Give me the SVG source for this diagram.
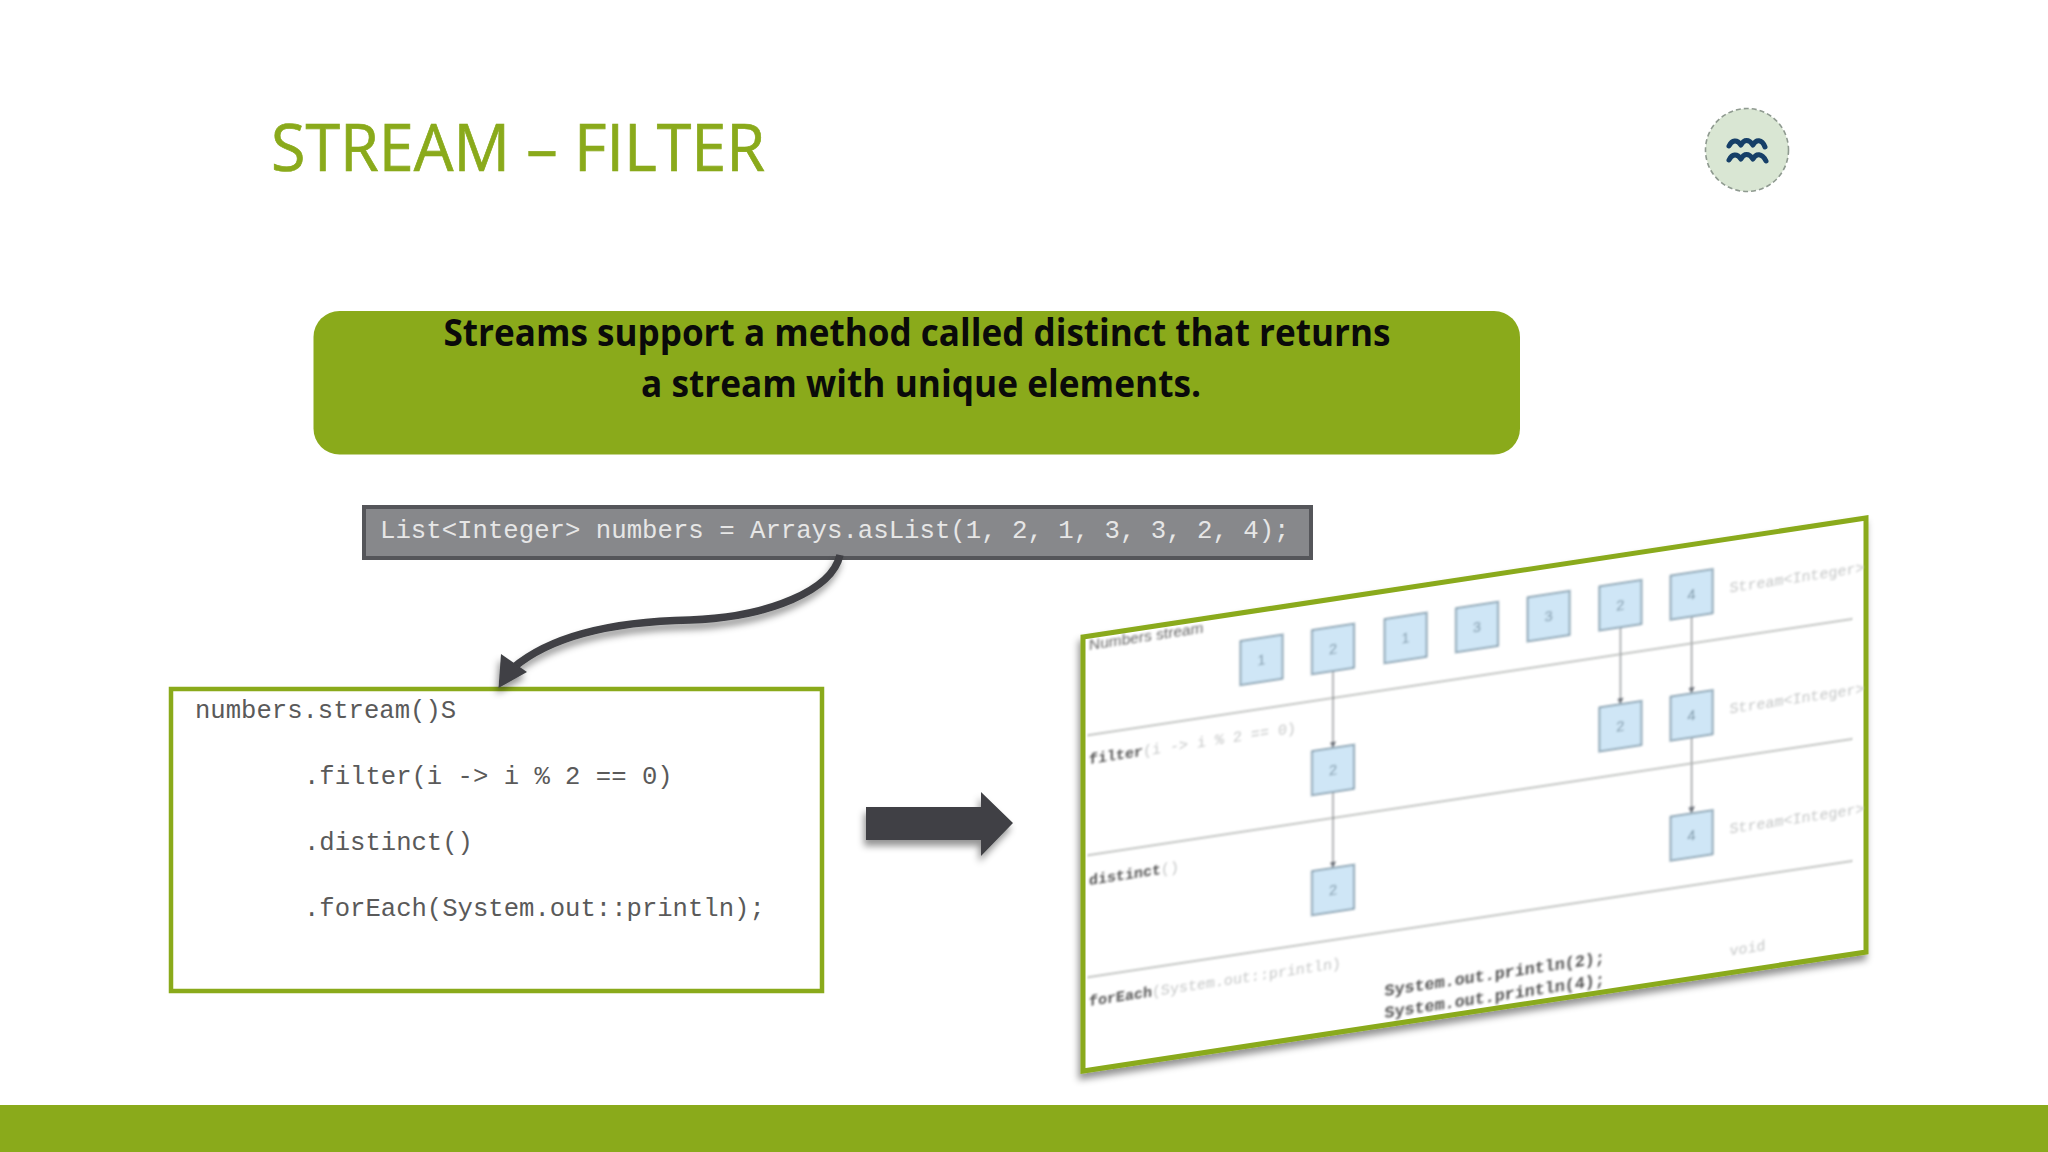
<svg xmlns="http://www.w3.org/2000/svg" width="2048" height="1152" viewBox="0 0 2048 1152">
<defs>
<filter id="soft" x="-5%" y="-5%" width="110%" height="110%"><feGaussianBlur stdDeviation="0.8"/></filter>
<filter id="shadow" x="-10%" y="-10%" width="120%" height="125%"><feDropShadow dx="-2" dy="6" stdDeviation="3.500" flood-color="#000" flood-opacity="0.42"/></filter>
<marker id="tip" markerWidth="6" markerHeight="6" refX="5" refY="3" orient="auto"><path d="M0 0.5L5 3L0 5.5Z" fill="#6a7078"/></marker>
</defs>
<style>
text{font-family:"Liberation Mono",monospace}
.green{fill:#8aaa1b}
.title{font-family:"Open Sans",sans-serif;font-size:66px;fill:#8aaa1b;stroke:#8aaa1b;stroke-width:0.700}
.banner{font-family:"Open Sans",sans-serif;font-size:37px;font-weight:700;fill:#0a0a0a;text-anchor:middle}
.code{font-size:25.6px;fill:#5a5a5a}
.box{fill:#cfe6f6;stroke:#8ea6b5;stroke-width:2}
.num{font-family:"Liberation Sans",sans-serif;font-size:15px;fill:#7d97a8;text-anchor:middle}
.div{stroke:#a4a8a4;stroke-width:1.800;stroke-dasharray:2 1;fill:none}
.flow{stroke:#8c8f92;stroke-width:1.300;fill:none;marker-end:url(#tip)}
.m{font-size:15px;font-weight:700;fill:#555}
.g{font-size:15px;fill:#c4c6c6}
.sys{font-size:16.700px;font-weight:700;fill:#555}
</style>
<rect width="2048" height="1152" fill="#fff"/>
<rect id="footer" x="0" y="1105" width="2048" height="47" class="green"/>
<text id="title" class="title" x="271" y="171" textLength="494" lengthAdjust="spacingAndGlyphs">STREAM – FILTER</text>
<g id="logo">
<circle cx="1747" cy="150" r="41.500" fill="#d9e6d3" stroke="#8f9a90" stroke-width="1.600" stroke-dasharray="5 3"/>
<g fill="none" stroke="#163f68" stroke-width="5" stroke-linecap="round" stroke-linejoin="round">
<path d="M1729 146C1732 140 1737 139 1741 145C1744 139 1749 139 1753 145C1756 139 1762 139 1765 147"/>
<path d="M1729 160C1732 154 1737 153 1741 159C1744 153 1749 153 1753 159C1756 153 1762 153 1766 161"/>
</g>
</g>
<g id="banner">
<rect x="313.500" y="311" width="1206.500" height="143.500" rx="26" class="green"/>
<text class="banner" x="917" y="346" textLength="947" lengthAdjust="spacingAndGlyphs">Streams support a method called distinct that returns</text>
<text class="banner" x="921" y="397" textLength="560" lengthAdjust="spacingAndGlyphs">a stream with unique elements.</text>
</g>
<g id="list-code">
<rect x="364" y="507" width="947" height="51" fill="#87888b" stroke="#55565a" stroke-width="4"/>
<text x="380" y="538" font-size="25.700" fill="#e6e6e6">List&lt;Integer&gt; numbers = Arrays.asList(1, 2, 1, 3, 3, 2, 4);</text>
</g>
<g id="pipeline-code">
<rect x="171" y="689" width="651" height="302" fill="#fff" stroke="#8aaa1b" stroke-width="4.500"/>
<text class="code" x="195" y="718">numbers.stream()S</text>
<text class="code" x="304" y="784">.filter(i -&gt; i % 2 == 0)</text>
<text class="code" x="304" y="850">.distinct()</text>
<text class="code" x="304" y="916">.forEach(System.out::println);</text>
</g>
<g id="connectors" filter="url(#shadow)">
<path d="M840 555C832 590 770 617 690 620C640 621 560 628 513 668" fill="none" stroke="#3f4044" stroke-width="7.500"/>
<path d="M501 654L527 672L498.500 688Z" fill="#3f4044"/>
<path d="M866 807H981V792L1013 823L981 856V840H866Z" fill="#3f4044"/>
</g>
<g id="stream-panel">
<path d="M1083 637L1866 518V952L1083 1071Z" fill="#fff" stroke="#8aaa1b" stroke-width="5" filter="url(#shadow)"/>
<g transform="translate(1083 637) skewY(-8.650)" filter="url(#soft)">
<path class="div" d="M5 99H770"/><path class="div" d="M5 219H770"/><path class="div" d="M5 341H770"/>
<g id="flows">
<path class="flow" d="M250 72V149"/><path class="flow" d="M250 193V269"/>
<path class="flow" d="M537.400 72V149"/><path class="flow" d="M608.600 72V149"/><path class="flow" d="M608.600 193V269"/>
</g>
<g id="row-numbers">
<rect class="box" x="157.500" y="28" width="42" height="44"/><text class="num" x="178.500" y="55">1</text>
<rect class="box" x="229" y="28" width="42" height="44"/><text class="num" x="250" y="55">2</text>
<rect class="box" x="301.600" y="28" width="42" height="44"/><text class="num" x="322.600" y="55">1</text>
<rect class="box" x="373" y="28" width="42" height="44"/><text class="num" x="394" y="55">3</text>
<rect class="box" x="444.600" y="28" width="42" height="44"/><text class="num" x="465.600" y="55">3</text>
<rect class="box" x="516.400" y="28" width="42" height="44"/><text class="num" x="537.400" y="55">2</text>
<rect class="box" x="587.600" y="28" width="42" height="44"/><text class="num" x="608.600" y="55">4</text>
</g>
<g id="row-filter">
<rect class="box" x="229" y="149" width="42" height="44"/><text class="num" x="250" y="176">2</text>
<rect class="box" x="516.400" y="149" width="42" height="44"/><text class="num" x="537.400" y="176">2</text>
<rect class="box" x="587.600" y="149" width="42" height="44"/><text class="num" x="608.600" y="176">4</text>
</g>
<g id="row-distinct">
<rect class="box" x="229" y="269" width="42" height="44"/><text class="num" x="250" y="296">2</text>
<rect class="box" x="587.600" y="269" width="42" height="44"/><text class="num" x="608.600" y="296">4</text>
</g>
<text x="6" y="14" font-size="15.500" fill="#666" style="font-family:'Liberation Sans',sans-serif">Numbers stream</text>
<text x="6" y="128"><tspan class="m">filter</tspan><tspan class="g">(i -&gt; i % 2 == 0)</tspan></text>
<text x="6" y="249"><tspan class="m">distinct</tspan><tspan class="g">()</tspan></text>
<text x="6" y="370"><tspan class="m">forEach</tspan><tspan class="g">(System.out::println)</tspan></text>
<text class="sys" x="301.600" y="405">System.out.println(2);</text>
<text class="sys" x="301.600" y="427">System.out.println(4);</text>
<text class="g" x="646.500" y="54">Stream&lt;Integer&gt;</text>
<text class="g" x="646.500" y="175">Stream&lt;Integer&gt;</text>
<text class="g" x="646.500" y="295">Stream&lt;Integer&gt;</text>
<text class="g" x="646.500" y="417">void</text>
</g>
</g>
</svg>
